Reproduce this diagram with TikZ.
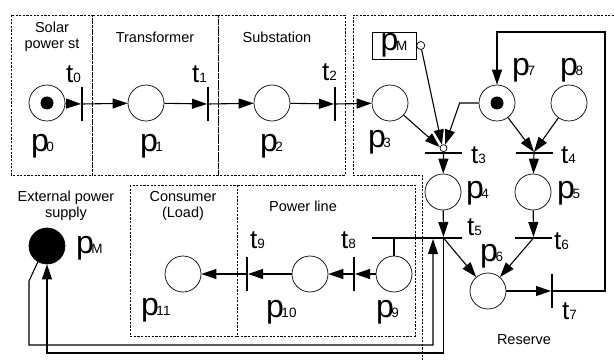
\documentclass[tikz,border=0pt]{standalone}
\usepackage{fontspec}
\setmainfont{Liberation Sans}
\usetikzlibrary{arrows.meta, positioning}

\newcommand{\plab}[1]{{\fontsize{32}{32}\selectfont p}\kern-2.5pt{\fontsize{13.5}{13.5}\selectfont #1}}
\newcommand{\tlab}[1]{{\fontsize{26}{26}\selectfont t}{\fontsize{13.5}{13.5}\selectfont #1}}

\begin{document}
\begin{tikzpicture}[
      x=1pt, y=-1pt,
      place/.style={circle, draw, line width=0.7pt, minimum size=36pt, inner sep=0pt},
      markedplace/.style={place, path picture={\fill (path picture bounding box.center) circle (6.5pt);}},
      vbar/.style={rectangle, fill, minimum width=1.6pt, minimum height=34pt, inner sep=0pt},
      hbar/.style={rectangle, fill, minimum width=37pt, minimum height=1.6pt, inner sep=0pt},
      flow/.style={-{Triangle[length=15pt,width=10pt]}, line width=1.1pt},
      zone/.style={draw, line width=0.9pt, dash pattern=on 2.2pt off 1.4pt},
      zonetext/.style={font=\fontsize{14.5}{16}\selectfont, align=center, inner sep=0pt},
      plabel/.style={anchor=base west, inner sep=0pt}
    ]
    \useasboundingbox (0,0) rectangle (614,361);

    % Zonas tracejadas
    \draw[zone] (11,15) rectangle (92,175);
    \draw[zone] (92,15) rectangle (218,175);
    \draw[zone] (218,15) rectangle (345,175);
    \draw[zone] (614,15) -- (353,15) -- (353,175) -- (422,175) -- (422,361);
    \draw[zone] (130,185) rectangle (237,336);
    \draw[zone] (237,185) rectangle (415,336);

    \node[zonetext] (solar) at (52,36.5) {Solar\\power st};
    \node[zonetext] (trans) at (155,37) {Transformer};
    \node[zonetext] (subst) at (277,37) {Substation};
    \node[zonetext] (extern) at (66,206) {External power\\supply};
    \node[zonetext] (load) at (183,206) {Consumer\\(Load)};
    \node[zonetext] (pline) at (303,206) {Power line};
    \node[zonetext] (reserve) at (524,340) {Reserve};

    % Lugares
    \node[markedplace] (p0) at (47,103) {};
    \node[place] (p1) at (146,103) {};
    \node[place] (p2) at (272,103) {};
    \node[place] (p3) at (390,103) {};
    \node[markedplace] (p7) at (497,103) {};
    \node[place] (p8) at (569,103) {};
    \node[place] (p4) at (443,192) {};
    \node[place] (p5) at (533,192) {};
    \node[place] (p6) at (488,291) {};
    \node[place] (p9) at (394,274) {};
    \node[place] (p10) at (310,274) {};
    \node[place] (p11) at (183,274) {};
    \node[place, fill] (pMext) at (47,246) {};

    % Transicoes
    \node[vbar] (t0) at (82,104) {};
    \node[vbar] (t1) at (208,104) {};
    \node[vbar] (t2) at (335,104) {};
    \node[hbar] (t3) at (443.5,153) {};
    \node[hbar] (t4) at (534,153) {};
    \node[hbar] (t5) at (443.5,238) {};
    \node[hbar] (t6) at (533.5,238) {};
    \node[vbar] (t7) at (552,291) {};
    \node[vbar] (t8) at (354,274) {};
    \node[vbar] (t9) at (247,274) {};

    % Lugar pM (caixa) e arcos inibidores
    \node[draw, line width=0.8pt, minimum width=44pt, minimum height=27pt, inner sep=0pt] (pM) at (394,45.5) {\plab{M}};
    \node[circle, draw, line width=0.7pt, minimum size=8pt, inner sep=0pt, right=0pt of pM] (pMinh) {};
    \node[circle, draw, line width=0.7pt, fill=white, minimum size=7pt, inner sep=0pt, above=0pt of t3] (t3inh) {};

    % Rotulos
    \node[plabel] (lp0) at (31,151) {\plab{0}};
    \node[plabel] (lp1) at (140,151) {\plab{1}};
    \node[plabel] (lp2) at (260,151) {\plab{2}};
    \node[plabel] (lp3) at (368,147) {\plab{3}};
    \node[plabel] (lp7) at (512,76) {\plab{7}};
    \node[plabel] (lp8) at (560,76) {\plab{8}};
    \node[plabel] (lp4) at (466,198) {\plab{4}};
    \node[plabel] (lp5) at (557,198) {\plab{5}};
    \node[plabel] (lp6) at (480,261) {\plab{6}};
    \node[plabel] (lp9) at (376,317) {\plab{9}};
    \node[plabel] (lp10) at (266,317) {\plab{10}};
    \node[plabel] (lp11) at (141,315) {\plab{11}};
    \node[plabel] (lpM) at (76,253) {\plab{M}};
    \node[plabel] (lt0) at (66,83) {\tlab{0}};
    \node[plabel] (lt1) at (192,83) {\tlab{1}};
    \node[plabel] (lt2) at (322,81) {\tlab{2}};
    \node[plabel] (lt3) at (471,164) {\tlab{3}};
    \node[plabel] (lt4) at (561,164) {\tlab{4}};
    \node[plabel] (lt5) at (467,235) {\tlab{5}};
    \node[plabel] (lt6) at (554,249) {\tlab{6}};
    \node[plabel] (lt7) at (562,319) {\tlab{7}};
    \node[plabel] (lt8) at (341,248) {\tlab{8}};
    \node[plabel] (lt9) at (250,248) {\tlab{9}};

    % Fluxo principal
    \draw[flow] (p0) -- (t0);
    \draw[flow] (t0) -- (p1);
    \draw[flow] (p1) -- (t1);
    \draw[flow] (t1) -- (p2);
    \draw[flow] (p2) -- (t2);
    \draw[flow] (t2) -- (p3);
    \draw[flow] (p3) -- (t3inh.165);
    \draw[flow] (pMinh) -- (t3inh.115);
    \draw[flow] (p7.west) -- ++(-19,0) -- (t3inh.65);
    \draw[flow] (p7) -- (t4.north);
    \draw[flow] (p8) -- (t4.north);
    \draw[flow] (t3) -- (p4);
    \draw[flow] (t4) -- (p5);
    \draw[flow] (p4) -- (t5);
    \draw[flow] (p5) -- (t6);
    \draw[flow] (t5.center) -- (p6);
    \draw[flow] (t6.center) -- (p6);
    \draw[flow] (p6) -- (t7);
    \draw[flow] (t7) -| (605,32) -| (p7.north);

    % Linha de transmissao
    \draw[line width=1.6pt] (t5.center) -- ++(-71.5,0);
    \draw[line width=1.1pt] (p9.north) -- (p9.north |- t5.center);
    \draw[flow] (p9) -- (t8);
    \draw[flow] (t8) -- (p10);
    \draw[flow] (p10) -- (t9);
    \draw[flow] (t9) -- (p11);

    % Fonte externa
    \draw[flow] (pMext.240) -- (29,281) |- (433,345) -- ([xshift=-10.5pt]t5.south);
    \draw[flow] (t5.center) -- (t5.center |- 0,353) -| (pMext.south);

    \end{tikzpicture}
\end{document}
